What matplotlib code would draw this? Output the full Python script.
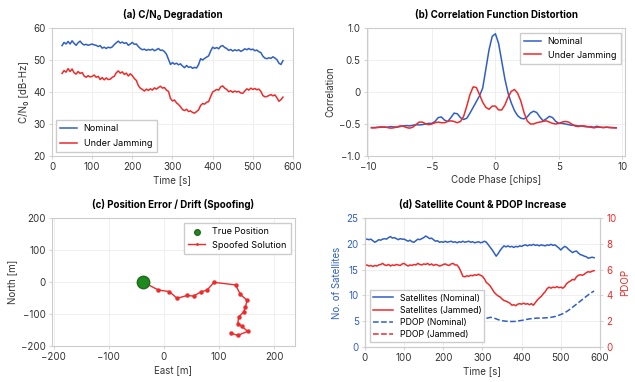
import numpy as np
import matplotlib
matplotlib.use("Agg")
import matplotlib.pyplot as plt

plt.rcParams['font.family'] = ['Inter', 'DejaVu Sans']
plt.rcParams['font.size'] = 7
plt.rcParams['axes.edgecolor'] = '#cccccc'
plt.rcParams['xtick.color'] = '#cccccc'
plt.rcParams['ytick.color'] = '#cccccc'
plt.rcParams['xtick.labelcolor'] = '#333333'
plt.rcParams['ytick.labelcolor'] = '#333333'
plt.rcParams['axes.labelcolor'] = '#333333'

BLUE = '#2f5fc4'
RED = '#ee2a2a'

# (a) C/N0 time series, every 5 s from 25 s
t_cn0 = np.arange(25, 576, 5)
cn0_nominal = [54.5, 55.5, 55.0, 55.8, 55.0, 56.0, 55.2, 54.6, 55.4, 55.9, 55.1, 54.7, 54.9, 54.6, 54.8,
               55.0, 54.7, 54.6, 54.2, 54.5, 53.7, 54.0, 53.6, 54.0, 53.8, 54.1, 54.8, 55.4, 55.9, 55.3,
               55.6, 55.2, 55.4, 54.6, 55.0, 55.5, 54.9, 55.0, 54.2, 53.6, 53.2, 53.4, 53.0, 53.3, 53.1,
               53.4, 52.9, 53.2, 53.6, 53.0, 53.1, 52.6, 51.8, 50.2, 48.6, 49.2, 48.7, 49.0, 48.5, 48.8,
               48.1, 47.6, 48.3, 47.7, 47.9, 47.4, 47.7, 47.5, 48.6, 50.4, 50.0, 50.5, 50.9, 51.3, 52.8,
               54.0, 53.6, 53.9, 53.5, 54.3, 54.5, 53.9, 53.6, 53.0, 53.3, 52.8, 53.2, 52.9, 53.2, 52.7,
               53.0, 53.5, 53.2, 53.6, 53.2, 53.4, 52.9, 53.1, 52.6, 52.3, 51.2, 50.6, 50.4, 50.7, 50.5,
               51.0, 50.6, 50.1, 49.0, 48.6, 49.8]
cn0_jammed = [45.8, 46.7, 46.2, 47.3, 46.4, 47.2, 46.0, 45.6, 46.4, 45.8, 46.1, 45.0, 44.6, 45.1, 44.7,
              44.9, 45.3, 44.6, 44.9, 43.9, 44.5, 43.8, 44.4, 43.9, 44.0, 44.6, 44.9, 46.0, 46.6, 45.9,
              46.3, 45.5, 45.9, 45.0, 45.7, 45.1, 44.2, 43.6, 42.0, 41.2, 40.8, 40.3, 40.9, 40.5, 41.0,
              40.6, 41.3, 40.9, 41.4, 41.8, 41.2, 41.4, 40.6, 40.2, 38.0, 37.2, 37.5, 36.6, 36.1, 35.4,
              34.5, 34.2, 34.6, 33.9, 34.1, 33.6, 33.4, 33.9, 34.4, 35.8, 36.4, 36.2, 36.8, 37.0, 38.6,
              40.0, 40.4, 40.8, 40.6, 41.6, 41.9, 41.2, 40.8, 40.1, 40.4, 39.9, 40.3, 40.0, 40.2, 39.7,
              39.6, 40.3, 41.0, 40.6, 41.2, 40.8, 41.1, 40.7, 40.9, 40.2, 38.9, 38.5, 38.6, 38.9, 39.2,
              38.8, 39.1, 38.2, 37.1, 37.6, 38.4]

# (b) correlation vs code phase, every 0.25 chip from -9.75
phase = np.linspace(-9.75, 9.5, 78)
corr_nominal = [-0.555, -0.555, -0.55, -0.545, -0.55, -0.55, -0.54, -0.545, -0.55, -0.54,
                -0.53, -0.525, -0.53, -0.52, -0.51, -0.515, -0.51, -0.50, -0.49, -0.49,
                -0.46, -0.40, -0.39, -0.44, -0.46, -0.40, -0.33, -0.34, -0.40, -0.43,
                -0.41, -0.33, -0.24, -0.15, -0.06, 0.06, 0.36, 0.66, 0.87, 0.91,
                0.76, 0.48, 0.20, -0.02, -0.17, -0.29, -0.37, -0.41, -0.42, -0.39,
                -0.33, -0.30, -0.32, -0.39, -0.45, -0.42, -0.38, -0.40, -0.46, -0.49,
                -0.49, -0.50, -0.51, -0.52, -0.52, -0.53, -0.53, -0.54, -0.545, -0.54,
                -0.55, -0.535, -0.55, -0.555, -0.55, -0.555, -0.555, -0.56]
corr_jammed = [-0.56, -0.56, -0.555, -0.55, -0.545, -0.555, -0.565, -0.56, -0.545, -0.53,
               -0.535, -0.555, -0.565, -0.55, -0.51, -0.47, -0.47, -0.495, -0.51, -0.50,
               -0.48, -0.47, -0.48, -0.48, -0.46, -0.45, -0.46, -0.48, -0.46, -0.38,
               -0.22, -0.04, 0.08, 0.07, -0.04, -0.16, -0.24, -0.27, -0.22, -0.22,
               -0.28, -0.28, -0.20, -0.08, 0.01, 0.04, -0.02, -0.14, -0.32, -0.45,
               -0.50, -0.50, -0.48, -0.47, -0.46, -0.45, -0.47, -0.49, -0.50, -0.49,
               -0.47, -0.46, -0.47, -0.50, -0.53, -0.54, -0.53, -0.53, -0.54, -0.55,
               -0.56, -0.55, -0.55, -0.555, -0.55, -0.555, -0.56, -0.56]

# (c) position drift
true_east, true_north = -38, 0
spoof_east = [-38, -10, 10, 24, 42, 54, 68, 78, 91, 130, 139, 151, 148, 145, 136, 134, 141, 152, 134, 121]
spoof_north = [0, -25, -30, -51, -42, -44, -30, -26, -1, -9, -39, -57, -78, -93, -109, -130, -138, -154, -167, -159]

# (d) satellites and PDOP, every 5 s
t_sat = np.arange(0, 586, 5)
sats_nominal = [20.9, 20.9, 20.8, 20.9, 20.6, 20.3, 20.5, 20.8, 20.7, 20.9, 21.0, 20.9, 21.2, 21.4, 21.1,
                21.2, 21.0, 20.8, 21.0, 20.9, 20.9, 20.7, 20.5, 20.7, 20.4, 20.3, 20.6, 20.9, 20.8, 21.0,
                21.2, 21.5, 21.3, 21.0, 21.1, 20.8, 20.5, 20.6, 20.3, 20.4, 20.3, 20.5, 20.3, 20.4, 20.5,
                20.3, 20.4, 20.2, 20.4, 20.3, 20.5, 20.3, 20.4, 20.5, 20.3, 20.4, 20.2, 20.3, 20.4, 20.2,
                20.3, 20.5, 20.3, 19.8, 19.3, 18.8, 18.2, 17.6, 18.1, 18.7, 19.2, 19.6, 19.4, 19.6, 19.4,
                19.5, 19.3, 19.5, 19.4, 19.6, 19.5, 19.7, 19.8, 19.6, 19.8, 19.7, 19.9, 19.7, 19.8, 19.6,
                19.8, 19.7, 19.6, 19.8, 19.7, 19.9, 19.7, 19.8, 19.5, 19.2, 18.8, 19.2, 19.5, 19.3, 18.9,
                18.6, 18.3, 18.5, 18.6, 18.2, 17.9, 17.8, 17.6, 17.5, 17.2, 17.3, 17.4, 17.3]
sats_jammed = [15.8, 15.9, 15.7, 15.8, 15.6, 15.8, 15.7, 15.9, 16.0, 16.2, 15.9, 15.8, 16.0, 15.7, 15.9,
               15.8, 16.0, 15.9, 15.8, 16.1, 16.2, 15.9, 15.7, 15.9, 15.8, 16.0, 15.9, 16.2, 16.0, 15.9,
               16.1, 16.0, 16.2, 15.9, 16.1, 15.8, 16.0, 15.9, 15.7, 15.8, 16.0, 16.1, 15.9, 15.8, 16.1,
               16.2, 15.9, 15.9, 15.4, 14.6, 13.7, 13.6, 13.8, 13.7, 13.9, 13.8, 14.0, 13.9, 14.1, 13.9,
               13.7, 13.2, 12.5, 12.2, 11.8, 11.2, 10.6, 10.2, 9.9, 9.7, 9.3, 9.0, 8.9, 8.7, 8.5,
               8.1, 8.2, 8.0, 8.3, 8.4, 8.3, 8.5, 8.3, 8.4, 8.2, 8.4, 8.1, 8.6, 9.1, 9.5,
               9.8, 10.3, 10.7, 11.3, 11.6, 11.4, 11.6, 11.5, 11.7, 11.5, 11.6, 11.4, 11.7, 12.3, 12.6,
               12.8, 13.1, 13.0, 13.6, 13.9, 14.0, 13.9, 14.1, 14.4, 14.6, 14.5, 14.7, 14.8]
t_pdop = np.arange(290, 586, 5)
pdop_nominal = [2.1, 2.12, 2.15, 2.2, 2.22, 2.26, 2.3, 2.28, 2.24, 2.18, 2.12, 2.08, 2.04, 2.02, 2.0,
                1.99, 1.98, 1.98, 1.98, 1.99, 2.01, 2.04, 2.06, 2.09, 2.12, 2.15, 2.18, 2.2, 2.21, 2.23,
                2.24, 2.24, 2.25, 2.25, 2.26, 2.27, 2.28, 2.3, 2.33, 2.36, 2.4, 2.46, 2.52, 2.58, 2.66,
                2.75, 2.85, 2.96, 3.08, 3.2, 3.32, 3.44, 3.56, 3.68, 3.8, 3.92, 4.04, 4.15, 4.25, 4.34]
pdop_jammed = []

fig = plt.figure(figsize=(6.35, 3.82), dpi=100)

leg_kw = dict(frameon=True, edgecolor='#cccccc', fancybox=False, framealpha=1.0,
              handlelength=1.9, handletextpad=0.7, borderpad=0.5)


def style(ax):
    ax.grid(True, color='#ececec', linewidth=0.6)
    ax.set_axisbelow(True)
    ax.tick_params(length=2.5, width=0.6, pad=2)
    for s in ax.spines.values():
        s.set_linewidth(0.8)


# (a)
ax1 = fig.add_axes([0.0819, 0.5916, 0.3795, 0.3351])
ax1.plot(t_cn0, cn0_nominal, color=BLUE, lw=1.1, label='Nominal')
ax1.plot(t_cn0, cn0_jammed, color=RED, lw=1.1, label='Under Jamming')
ax1.set_xlim(0, 600)
ax1.set_ylim(20, 60)
ax1.set_yticks([20, 30, 40, 50, 60])
ax1.set_xlabel('Time [s]', labelpad=2)
ax1.set_ylabel('C/N₀ [dB-Hz]', labelpad=3)
ax1.set_title('(a) C/N₀ Degradation', fontweight='bold', fontsize=7, pad=7)
ax1.legend(loc='lower left', fontsize=6.5, labelspacing=0.65, borderaxespad=0.4, **leg_kw)
style(ax1)

# (b)
ax2 = fig.add_axes([0.578, 0.5916, 0.4063, 0.3351])
ax2.plot(phase, corr_nominal, color=BLUE, lw=1.1, label='Nominal')
ax2.plot(phase, corr_jammed, color=RED, lw=1.1, label='Under Jamming')
ax2.set_xlim(-10.1, 10.2)
ax2.set_ylim(-1.0, 1.0)
ax2.set_xticks([-10, -5, 0, 5, 10])
ax2.set_yticks([-1.0, -0.5, 0, 0.5, 1.0])
ax2.set_yticklabels(['−1.0', '−0.5', '0', '0.5', '1.0'])
ax2.set_xlabel('Code Phase [chips]', labelpad=2)
ax2.set_ylabel('Correlation', labelpad=3)
ax2.set_title('(b) Correlation Function Distortion', fontweight='bold', fontsize=7, pad=7)
ax2.legend(loc='upper right', fontsize=6.5, labelspacing=0.5, **leg_kw)
style(ax2)

# (c)
ax3 = fig.add_axes([0.0819, 0.0942, 0.3827, 0.3351])
ax3.plot(spoof_east, spoof_north, color=RED, lw=1.0, marker='o', markersize=2.2,
         label='Spoofed Solution', zorder=3)
ax3.scatter([true_east], [true_north], s=80, color='#1e8a1e', edgecolor='#1e6a1e',
            label='True Position', zorder=4)
ax3.set_xlim(-203, 238)
ax3.set_ylim(-200, 200)
ax3.set_xticks([-200, -100, 0, 100, 200])
ax3.set_yticks([-200, -100, 0, 100, 200])
ax3.set_xlabel('East [m]', labelpad=2)
ax3.set_ylabel('North [m]', labelpad=3)
ax3.set_title('(c) Position Error / Drift (Spoofing)', fontweight='bold', fontsize=7, pad=7)
h, l = ax3.get_legend_handles_labels()
ax3.legend(h[::-1], l[::-1], loc='upper right', fontsize=6.5, labelspacing=0.5,
           markerscale=0.45, **leg_kw)
style(ax3)

# (d)
ax4 = fig.add_axes([0.5748, 0.0916, 0.370, 0.3377])
ax5 = ax4.twinx()
l1, = ax4.plot(t_sat, sats_nominal, color=BLUE, lw=1.1, label='Satellites (Nominal)')
l2, = ax4.plot(t_sat, sats_jammed, color=RED, lw=1.1, label='Satellites (Jammed)')
l3, = ax5.plot(t_pdop, pdop_nominal, color=BLUE, lw=1.1, ls='--', label='PDOP (Nominal)')
l4, = ax5.plot(pdop_jammed, pdop_jammed, color=RED, lw=1.1, ls='--', label='PDOP (Jammed)')
ax4.set_xlim(0, 600)
ax4.set_ylim(0, 25)
ax5.set_ylim(0, 10)
ax4.set_yticks([0, 5, 10, 15, 20, 25])
ax5.set_yticks([0, 2, 4, 6, 8, 10])
ax4.set_xlabel('Time [s]', labelpad=2)
ax4.set_ylabel('No. of Satellites', color=BLUE, labelpad=3)
ax5.set_ylabel('PDOP', color=RED, labelpad=3)
ax4.set_title('(d) Satellite Count & PDOP Increase', fontweight='bold', fontsize=7, pad=7)
style(ax4)
ax4.tick_params(axis='y', labelcolor=BLUE)
ax5.tick_params(axis='y', labelcolor=RED, length=2.5, width=0.6, pad=2)
for s in ax5.spines.values():
    s.set_linewidth(0.8)
lines = [l1, l2, l3, l4]
ax5.legend(lines, [x.get_label() for x in lines], loc='lower left', fontsize=6.3,
           frameon=True, edgecolor='#cccccc', fancybox=False, framealpha=1.0,
           handlelength=2.3, handletextpad=0.7, borderpad=0.35, labelspacing=0.35,
           borderaxespad=0.6)

fig.savefig('out.png', dpi=100)
